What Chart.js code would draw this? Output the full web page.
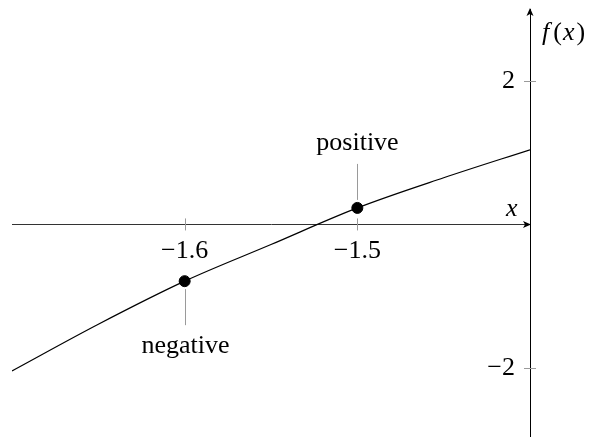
<!DOCTYPE html>
<html>
<head>
<meta charset="utf-8">
<script src="https://cdn.jsdelivr.net/npm/chart.js@4.4.1/dist/chart.umd.min.js"></script>
<style>
    html, body { margin: 0; padding: 0; background: #fff; overflow: hidden; }
    #wrap { position: relative; width: 589px; height: 437px; }
</style>
</head>
<body>
<div id="wrap"><canvas id="chart-biseccion"></canvas></div>
<script>
// Curva f(x) sobre el intervalo [-1.7, -1.4]
const curvaX = [-1.7, -1.65, -1.6, -1.55, -1.5, -1.45, -1.4];
const curvaY = [-2.04, -1.39, -0.79, -0.28, 0.23, 0.65, 1.04];

// Puntos marcados y su signo
const puntosX = [-1.6, -1.5];
const puntosY = [-0.79, 0.23];
const puntosTexto = ['negative', 'positive'];

// Marcas de los ejes
const ticksX = [-1.6, -1.5];
const ticksY = [-2, 2];

const FUENTE = "'Liberation Serif', 'DejaVu Serif', serif";
const TAM = 26;

function formatoTick(v) {
    return v < 0 ? '\u2212' + String(Math.abs(v)) : String(v);
}

/**
 * Ejes con flecha, marcas cruzadas, etiquetas de ejes y etiquetas de puntos
 */
const ejesPlugin = {
    id: 'ejes',
    afterDraw(chart) {
        const { ctx, scales: { x, y }, chartArea } = chart;
        const y0 = y.getPixelForValue(0);
        const xEje = chartArea.right;

        ctx.save();

        // marcas de los ticks (cruzan el eje)
        ctx.strokeStyle = '#9a9a9a';
        ctx.lineWidth = 1;
        x.ticks.forEach(t => {
            const px = Math.round(x.getPixelForValue(t.value)) + 0.5;
            ctx.beginPath();
            ctx.moveTo(px, y0 - 6);
            ctx.lineTo(px, y0 + 6);
            ctx.stroke();
        });
        y.ticks.forEach(t => {
            const py = Math.round(y.getPixelForValue(t.value)) + 0.5;
            ctx.beginPath();
            ctx.moveTo(xEje - 6, py);
            ctx.lineTo(xEje + 6, py);
            ctx.stroke();
        });

        // flechas
        ctx.fillStyle = '#000';
        ctx.beginPath();
        ctx.moveTo(chartArea.right + 1, y0);
        ctx.lineTo(chartArea.right - 7, y0 - 3.5);
        ctx.lineTo(chartArea.right - 5, y0);
        ctx.lineTo(chartArea.right - 7, y0 + 3.5);
        ctx.closePath();
        ctx.fill();

        ctx.beginPath();
        ctx.moveTo(xEje, chartArea.top - 1);
        ctx.lineTo(xEje - 3.5, chartArea.top + 7);
        ctx.lineTo(xEje, chartArea.top + 5);
        ctx.lineTo(xEje + 3.5, chartArea.top + 7);
        ctx.closePath();
        ctx.fill();

        // etiquetas de los ejes
        ctx.fillStyle = '#000';
        ctx.textBaseline = 'alphabetic';
        ctx.textAlign = 'left';
        ctx.font = `italic ${TAM}px ${FUENTE}`;
        ctx.fillText('x', xEje - 24, y0 - 8);

        let cx = xEje + 12;
        const base = 40;
        ctx.fillText('f', cx, base);
        cx += ctx.measureText('f').width + 4;
        ctx.font = `${TAM}px ${FUENTE}`;
        ctx.fillText('(', cx, base);
        cx += ctx.measureText('(').width + 1;
        ctx.font = `italic ${TAM}px ${FUENTE}`;
        ctx.fillText('x', cx, base);
        cx += ctx.measureText('x').width + 2;
        ctx.font = `${TAM}px ${FUENTE}`;
        ctx.fillText(')', cx, base);

        // pines y etiquetas de signo
        ctx.font = `${TAM}px ${FUENTE}`;
        ctx.textAlign = 'center';
        puntosX.forEach((vx, i) => {
            const px = Math.round(x.getPixelForValue(vx)) + 0.5;
            const py = y.getPixelForValue(puntosY[i]);
            const dir = puntosY[i] < 0 ? 1 : -1;
            ctx.strokeStyle = '#9a9a9a';
            ctx.beginPath();
            ctx.moveTo(px, py + dir * 8);
            ctx.lineTo(px, py + dir * 44);
            ctx.stroke();
            ctx.fillStyle = '#000';
            ctx.textBaseline = 'middle';
            ctx.fillText(puntosTexto[i], px, py + dir * 65);
        });

        ctx.restore();
    }
};

const ctx = document.getElementById('chart-biseccion');

new Chart(ctx, {
    type: 'line',
    data: {
        datasets: [
            {
                data: curvaX.map((vx, i) => ({ x: vx, y: curvaY[i] })),
                borderColor: '#000',
                borderWidth: 1.2,
                pointRadius: 0,
                cubicInterpolationMode: 'monotone',
                fill: false
            },
            {
                type: 'scatter',
                data: puntosX.map((vx, i) => ({ x: vx, y: puntosY[i] })),
                backgroundColor: '#000',
                borderColor: '#000',
                pointRadius: 5.5,
                pointHoverRadius: 5.5
            }
        ]
    },
    options: {
        responsive: true,
        maintainAspectRatio: false,
        animation: false,
        layout: {
            autoPadding: false,
            padding: { left: 12, right: 59, top: 9, bottom: 0 }
        },
        plugins: {
            legend: { display: false },
            tooltip: { enabled: false }
        },
        scales: {
            x: {
                type: 'linear',
                min: -1.7,
                max: -1.4,
                position: { y: 0 },
                afterFit(scale) {
                    scale.height = 0;
                    scale.paddingLeft = 0;
                    scale.paddingRight = 0;
                },
                afterBuildTicks(scale) {
                    scale.ticks = ticksX.map(v => ({ value: v }));
                },
                grid: { display: false, drawTicks: false },
                border: { display: true, color: '#333', width: 1 },
                ticks: {
                    color: '#000',
                    padding: 11,
                    maxRotation: 0,
                    font: { family: FUENTE, size: TAM },
                    callback: v => formatoTick(v)
                }
            },
            y: {
                type: 'linear',
                min: -2.96,
                max: 3,
                position: 'right',
                afterFit(scale) {
                    scale.width = 0;
                    scale.paddingTop = 0;
                    scale.paddingBottom = 0;
                },
                afterBuildTicks(scale) {
                    scale.ticks = ticksY.map(v => ({ value: v }));
                },
                grid: { display: false, drawTicks: false },
                border: { display: true, color: '#000', width: 1 },
                ticks: {
                    color: '#000',
                    mirror: true,
                    crossAlign: 'near',
                    padding: -15,
                    font: { family: FUENTE, size: TAM },
                    callback: v => formatoTick(v)
                }
            }
        }
    },
    plugins: [ejesPlugin]
});
</script>
</body>
</html>
